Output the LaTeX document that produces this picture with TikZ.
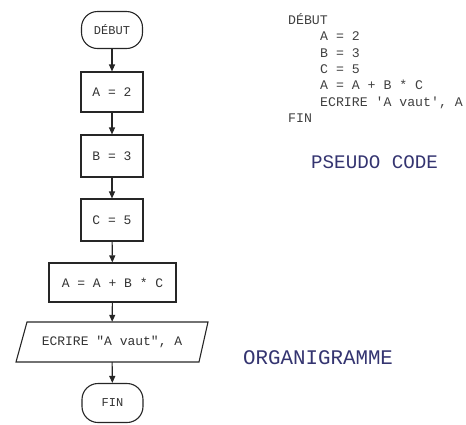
\documentclass[tikz,border=0pt]{standalone}
\usepackage{fontspec}
\newfontfamily\mono{Liberation Mono}
\usetikzlibrary{arrows.meta}
\definecolor{navy}{RGB}{52,52,112}
\tikzset{
  flowline/.style={line width=1.1pt, draw=black!85},
  arr/.style={flowline, -{Triangle[length=7pt,width=6pt]}},
  box/.style={flowline, draw, rectangle, inner sep=0pt, minimum height=40pt, font=\mono\fontsize{13}{13}\selectfont, text=black!80},
  term/.style={flowline, draw, rectangle, rounded corners=16pt, inner sep=0pt, minimum width=61pt, minimum height=37pt, font=\mono\fontsize{12}{12}\selectfont, text=black!80},
  paratext/.style={rectangle, inner sep=0pt, minimum width=170pt, minimum height=40pt, font=\mono\fontsize{13}{13}\selectfont, text=black!80},
  code/.style={anchor=base west, inner sep=0pt, font=\mono\fontsize{13.2}{13.2}\selectfont, text=black!75},
  caption/.style={anchor=base west, inner sep=0pt, text=navy}
}
\begin{document}
\begin{tikzpicture}[x=1pt,y=-1pt]
\useasboundingbox (0,0) rectangle (466,424);
% flowchart
\node[term] (debut) at (112,30) {DÉBUT};
\node[box, minimum width=62pt] (a2) at (112,92) {A = 2};
\node[box, minimum width=62pt, minimum height=42pt] (b3) at (112,156) {B = 3};
\node[box, minimum width=62pt, minimum height=42pt] (c5) at (112,220) {C = 5};
\node[box, minimum width=127pt, minimum height=39pt] (calc) at (112.5,282.5) {A = A + B * C};
\node[paratext] (ecr) at (112,342) {ECRIRE "A vaut", A};
\coordinate (pbl) at (16,362);
\coordinate (ptl) at (27,322);
\coordinate (ptr) at (208,322);
\coordinate (pbr) at (199,362);
\draw[flowline] (pbl) -- (ptl) -- (ptr) -- (pbr) -- cycle;
\node[term, minimum height=39pt] (fin) at (112.5,403) {FIN};
\draw[arr] (debut) -- (a2);
\draw[arr] (a2) -- (b3);
\draw[arr] (b3) -- (c5);
\draw[arr] (c5) -- (calc);
\draw[arr] (calc) -- (ecr);
\draw[arr] (ecr) -- (fin);
% pseudo code
\node[code] (p1) at (288,24.5) {DÉBUT};
\node[code] (p2) at (320,40.8) {A = 2};
\node[code] (p3) at (320,57) {B = 3};
\node[code] (p4) at (320,73.4) {C = 5};
\node[code] (p5) at (320,89.7) {A = A + B * C};
\node[code] (p6) at (320,106) {ECRIRE 'A vaut', A};
\node[code] (p7) at (288,122.3) {FIN};
\node[caption, font=\mono\fontsize{19.2}{19.2}\selectfont] (pc) at (311,168) {PSEUDO CODE};
\node[caption, font=\mono\fontsize{20.8}{20.8}\selectfont] (org) at (243,364) {ORGANIGRAMME};
\end{tikzpicture}
\end{document}
